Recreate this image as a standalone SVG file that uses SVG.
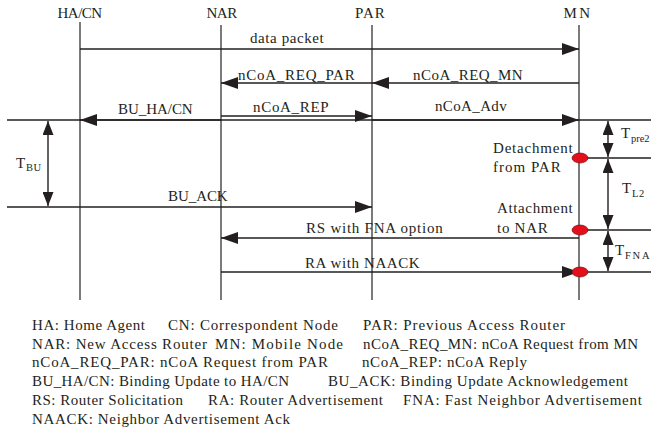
<svg xmlns="http://www.w3.org/2000/svg" width="651" height="433" viewBox="0 0 651 433">
<style>
text{font-family:"Liberation Serif","Times New Roman",serif;fill:#231f20}
.t{font-size:15px;letter-spacing:0.3px}
.lg{font-size:15px}
.sub{font-size:10.5px;letter-spacing:0.5px}
.life{stroke:#333;stroke-width:1.3;fill:none}
.msg{stroke:#231f20;stroke-width:1.4;fill:none}
.dot{fill:#e3101b;stroke:#6b0a0e;stroke-width:0.6}
</style>
<defs>
<marker id="ah" markerUnits="userSpaceOnUse" markerWidth="18" markerHeight="13" refX="17" refY="6" orient="auto-start-reverse" viewBox="0 0 18 13">
<path d="M0,0 L17,6 L0,12 z" fill="#231f20"/>
</marker>
<marker id="vh" markerUnits="userSpaceOnUse" markerWidth="14" markerHeight="11" refX="14" refY="5.5" orient="auto-start-reverse" viewBox="0 0 14 11">
<path d="M0,0 L14,5.5 L0,11 z" fill="#231f20"/>
</marker>
</defs>

<g id="HA_CN"><line class="life" x1="80" y1="22" x2="80" y2="300"/><text class="t" x="80" y="18" text-anchor="middle" textLength="45">HA/CN</text></g>
<g id="NAR"><line class="life" x1="221" y1="25" x2="221" y2="300"/><text class="t" x="222" y="18" text-anchor="middle" textLength="31">NAR</text></g>
<g id="PAR"><line class="life" x1="372" y1="25" x2="372" y2="300"/><text class="t" x="370" y="18" text-anchor="middle" textLength="30">PAR</text></g>
<g id="MN"><line class="life" x1="579" y1="25" x2="579" y2="300"/><text class="t" x="577" y="18" text-anchor="middle" textLength="27">MN</text></g>

<g id="connectors">
<line class="msg" x1="80" y1="49" x2="579" y2="49" marker-end="url(#ah)"/>
<line class="msg" x1="372" y1="83" x2="221" y2="83" marker-end="url(#ah)"/>
<line class="msg" x1="579" y1="83" x2="372" y2="83" marker-end="url(#ah)"/>
<line class="msg" x1="7" y1="120" x2="651" y2="120"/>
<line class="msg" x1="221" y1="120" x2="80" y2="120" marker-end="url(#ah)"/>
<line class="msg" x1="221" y1="116" x2="372" y2="116" marker-end="url(#ah)"/>
<line class="msg" x1="372" y1="120" x2="579" y2="120" marker-end="url(#ah)"/>
<line class="msg" x1="7" y1="207" x2="372" y2="207" marker-end="url(#ah)"/>
<line class="msg" x1="579" y1="238" x2="221" y2="238" marker-end="url(#ah)"/>
<line class="msg" x1="221" y1="272" x2="579" y2="272" marker-end="url(#ah)"/>
<line class="msg" x1="579" y1="158" x2="651" y2="158"/>
<line class="msg" x1="579" y1="230" x2="651" y2="230"/>
<line class="msg" x1="579" y1="272" x2="651" y2="272"/>
<line class="msg" x1="48" y1="121" x2="48" y2="206" marker-start="url(#vh)" marker-end="url(#vh)"/>
<line class="msg" x1="608" y1="121" x2="608" y2="157" marker-start="url(#vh)" marker-end="url(#vh)"/>
<line class="msg" x1="608" y1="159" x2="608" y2="229" marker-start="url(#vh)" marker-end="url(#vh)"/>
<line class="msg" x1="608" y1="231" x2="608" y2="271" marker-start="url(#vh)" marker-end="url(#vh)"/>
</g>

<g id="labels">
<text class="t" x="250" y="43" textLength="74">data packet</text>
<text class="t" x="238" y="80" textLength="117">nCoA_REQ_PAR</text>
<text class="t" x="413" y="80" textLength="110">nCoA_REQ_MN</text>
<text class="t" x="118" y="114" textLength="75">BU_HA/CN</text>
<text class="t" x="253" y="112" textLength="76">nCoA_REP</text>
<text class="t" x="435" y="111" textLength="72">nCoA_Adv</text>
<text class="t" x="168" y="201" textLength="60">BU_ACK</text>
<text class="t" x="306" y="233" textLength="137">RS with FNA option</text>
<text class="t" x="305" y="268" textLength="115">RA with NAACK</text>
<text class="t" x="16" y="168">T</text><text class="sub" x="26" y="171">BU</text>
<text class="t" x="621" y="138">T</text><text class="sub" x="631" y="142" textLength="19">pre2</text>
<text class="t" x="622" y="193">T</text><text class="sub" x="632" y="197">L2</text>
<text class="t" x="615" y="255">T</text><text class="sub" x="625" y="259" textLength="25">FNA</text>
<text class="t" x="493" y="153" textLength="80">Detachment</text>
<text class="t" x="493" y="172" textLength="68">from PAR</text>
<text class="t" x="497" y="213" textLength="76">Attachment</text>
<text class="t" x="497" y="233" textLength="51">to NAR</text>
</g>

<g id="events">
<ellipse class="dot" cx="580" cy="158" rx="8" ry="5"/>
<ellipse class="dot" cx="580" cy="230" rx="8" ry="5"/>
<ellipse class="dot" cx="580" cy="272" rx="8" ry="5"/>
</g>

<g id="legend">
<text class="lg" x="32" y="330" textLength="113">HA: Home Agent</text>
<text class="lg" x="168" y="330" textLength="170">CN: Correspondent Node</text>
<text class="lg" x="363" y="330" textLength="202">PAR: Previous Access Router</text>
<text class="lg" x="32" y="348.7" textLength="175">NAR: New Access Router</text>
<text class="lg" x="215" y="348.7" textLength="128">MN: Mobile Node</text>
<text class="lg" x="363" y="348.7" textLength="275">nCoA_REQ_MN: nCoA Request from MN</text>
<text class="lg" x="32" y="367.4" textLength="296">nCoA_REQ_PAR: nCoA Request from PAR</text>
<text class="lg" x="362" y="367.4" textLength="165">nCoA_REP: nCoA Reply</text>
<text class="lg" x="32" y="386.1" textLength="257">BU_HA/CN: Binding Update to HA/CN</text>
<text class="lg" x="328" y="386.1" textLength="300">BU_ACK: Binding Update Acknowledgement</text>
<text class="lg" x="32" y="404.8" textLength="151">RS: Router Solicitation</text>
<text class="lg" x="208" y="404.8" textLength="175">RA: Router Advertisement</text>
<text class="lg" x="403" y="404.8" textLength="239">FNA: Fast Neighbor Advertisement</text>
<text class="lg" x="32" y="423.5" textLength="258">NAACK: Neighbor Advertisement Ack</text>
</g>
</svg>
